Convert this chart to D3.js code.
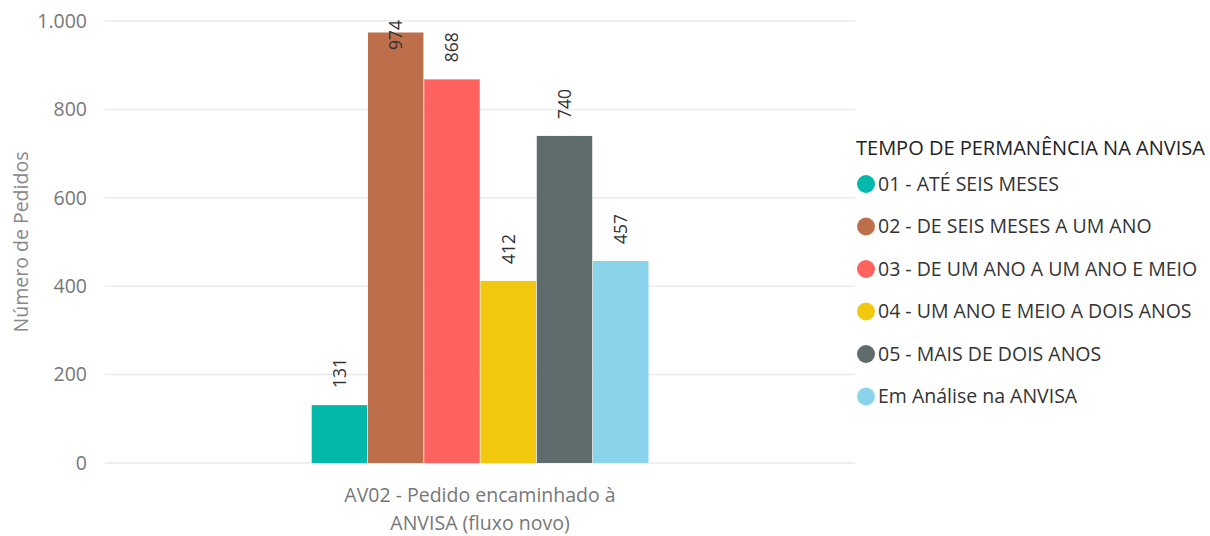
<!DOCTYPE html>
<meta charset="utf-8">
<title>Número de Pedidos</title>
<style>
body { margin: 0; background: #fff; }
svg { font-family: "Segoe UI", "Open Sans", sans-serif; }
.grid line { stroke: #eaeaea; stroke-width: 1.5px; }
.tick-label { fill: #777; font-size: 19.5px; }
.value { fill: #333; font-size: 17.5px; }
.legend text { fill: #333; font-size: 19.5px; }
</style>
<body>
<script src="https://cdn.jsdelivr.net/npm/d3@7"></script>
<script>

var category = ["AV02 - Pedido encaminhado à", "ANVISA (fluxo novo)"];
var series = [
  "01 - ATÉ SEIS MESES",
  "02 - DE SEIS MESES A UM ANO",
  "03 - DE UM ANO A UM ANO E MEIO",
  "04 - UM ANO E MEIO A DOIS ANOS",
  "05 - MAIS DE DOIS ANOS",
  "Em Análise na ANVISA"
];
var values = [131, 974, 868, 412, 740, 457];
var colors = ["#01b8aa", "#bd6f4c", "#fd625e", "#f2c80f", "#5f6b6d", "#8ad4eb"];
var yTicks = [0, 200, 400, 600, 800, 1000];
var legendTitle = "TEMPO DE PERMANÊNCIA NA ANVISA";
var yTitle = "Número de Pedidos";

var width = 1210, height = 536;
var plot = {left: 105, right: 855, top: 21, bottom: 463};

var svg = d3.select("body").append("svg")
    .attr("width", width)
    .attr("height", height);

var y = d3.scaleLinear().domain([0, 1000]).range([plot.bottom, plot.top]);
var x = d3.scaleBand().domain(series).range([311.7, 649.3]).padding(0);

// gridlines + tick labels
var grid = svg.append("g").attr("class", "grid");
grid.selectAll("line")
    .data(yTicks)
  .enter().append("line")
    .attr("x1", plot.left).attr("x2", plot.right)
    .attr("y1", function(d) { return y(d); })
    .attr("y2", function(d) { return y(d); });

svg.selectAll(".tick-label")
    .data(yTicks)
  .enter().append("text")
    .attr("class", "tick-label")
    .attr("x", 87)
    .attr("y", function(d) { return y(d); })
    .attr("dy", "0.35em")
    .attr("text-anchor", "end")
    .text(function(d) { return d3.format(",")(d).replace(",", "."); });

svg.append("text")
    .attr("class", "tick-label")
    .attr("transform", "translate(28," + ((plot.top + plot.bottom) / 2) + ") rotate(-90)")
    .attr("text-anchor", "middle")
    .style("fill", "#888")
    .text(yTitle);

// bars
svg.selectAll(".bar")
    .data(values)
  .enter().append("rect")
    .attr("class", "bar")
    .attr("x", function(d, i) { return x(series[i]); })
    .attr("width", x.bandwidth() - 0.8)
    .attr("y", function(d) { return y(d); })
    .attr("height", function(d) { return y(0) - y(d); })
    .attr("fill", function(d, i) { return colors[i]; });

// value labels
svg.selectAll(".value")
    .data(values)
  .enter().append("text")
    .attr("class", "value")
    .attr("transform", function(d, i) {
      var cx = x(series[i]) + x.bandwidth() / 2;
      var ty = Math.max(y(d) - 17, plot.top + 29);
      return "translate(" + (cx + 6) + "," + ty + ") rotate(-90)";
    })
    .text(function(d) { return d; });

// category label
svg.selectAll(".cat")
    .data(category)
  .enter().append("text")
    .attr("class", "tick-label cat")
    .attr("x", 480)
    .attr("y", function(d, i) { return 502 + i * 28; })
    .attr("text-anchor", "middle")
    .text(function(d) { return d; });

// legend
var legend = svg.append("g").attr("class", "legend");
legend.append("text")
    .attr("x", 856)
    .attr("y", 155)
    .style("fill", "#222")
    .style("font-size", "20px")
    .text(legendTitle);

var item = legend.selectAll(".item")
    .data(series)
  .enter().append("g")
    .attr("class", "item")
    .attr("transform", function(d, i) { return "translate(0," + (184 + i * 42.5) + ")"; });

item.append("circle")
    .attr("cx", 866)
    .attr("r", 9)
    .attr("fill", function(d, i) { return colors[i]; });

item.append("text")
    .attr("x", 878)
    .attr("dy", "0.35em")
    .text(function(d) { return d; });

</script>
</body>
